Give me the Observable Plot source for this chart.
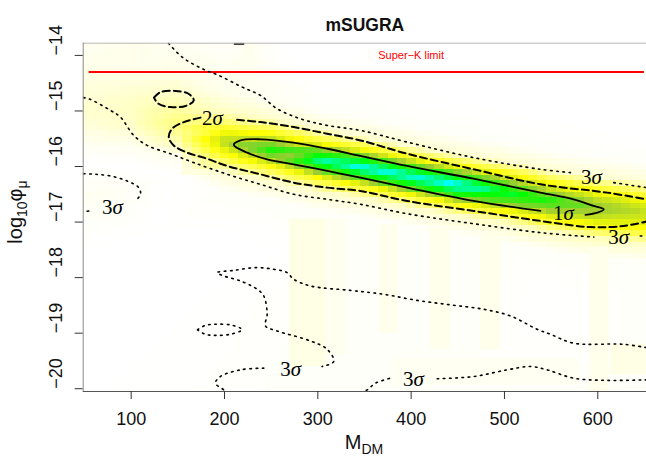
<!DOCTYPE html>
<html><head><meta charset="utf-8">
<script src="https://cdn.jsdelivr.net/npm/d3@7"></script>
<script src="https://cdn.jsdelivr.net/npm/@observablehq/plot@0.6"></script>
<style>html,body{margin:0;padding:0;background:#fff;} svg{display:block}</style>
</head><body><div id="chart"></div>
<script>
// ---------- data ----------
const chartTitle = "mSUGRA";
const xTicks = [100, 200, 300, 400, 500, 600];
const yTicks = [-14, -15, -16, -17, -18, -19, -20];
const xDomain = [48.6, 652.2];
const yDomain = [-20.05, -13.78];

// Super-K limit
const superKValue = -14.3;
const superKSpan = [55, 650];
const superKLabel = {x: 400, y: -14.0, text: "Super\u2212K limit"};

// heat map: ridge columns, centre of ridge, offsets from centre, values at those offsets
const heatColumnsX = [50, 100, 150, 200, 250, 300, 350, 400, 450, 500, 550, 600, 650];
const heatColumnsCenter = [-15.05, -15.1, -15.25, -15.55, -15.7, -15.88, -16.02, -16.18, -16.33, -16.46, -16.62, -16.74, -16.82];
const heatOffsets = [0.9, 0.55, 0.35, 0.18, 0, -0.18, -0.35, -0.55, -0.9];
const heatValues = [
  [0.03, 0.05, 0.06, 0.07, 0.07, 0.06, 0.04, 0.02, 0.0],
  [0.03, 0.06, 0.08, 0.09, 0.09, 0.08, 0.05, 0.02, 0.0],
  [0.04, 0.09, 0.13, 0.17, 0.2, 0.16, 0.10, 0.03, 0.0],
  [0.03, 0.09, 0.22, 0.40, 0.55, 0.42, 0.24, 0.07, 0.01],
  [0.02, 0.08, 0.30, 0.55, 0.76, 0.56, 0.30, 0.08, 0.01],
  [0.01, 0.07, 0.33, 0.66, 0.92, 0.68, 0.34, 0.08, 0.01],
  [0.01, 0.07, 0.36, 0.72, 1.00, 0.74, 0.36, 0.08, 0.01],
  [0.01, 0.07, 0.36, 0.72, 0.98, 0.74, 0.36, 0.08, 0.01],
  [0.01, 0.07, 0.38, 0.74, 1.00, 0.76, 0.38, 0.08, 0.01],
  [0.01, 0.07, 0.36, 0.64, 0.86, 0.66, 0.38, 0.09, 0.01],
  [0.01, 0.07, 0.34, 0.56, 0.76, 0.58, 0.38, 0.10, 0.01],
  [0.01, 0.07, 0.32, 0.50, 0.62, 0.52, 0.38, 0.10, 0.01],
  [0.01, 0.06, 0.28, 0.45, 0.52, 0.46, 0.34, 0.09, 0.01]
];
// faint background samples away from the ridge
const bgX = [45, 100, 150, 200, 230, 260, 350, 500, 655, 300, 450, 600, 655, 45, 70, 45, 120, 200, 250, 350, 450, 550, 655, 655, 450, 300, 200, 45, 150];
const bgY = [-13.78, -13.78, -13.78, -13.78, -13.78, -13.78, -13.78, -13.78, -13.78, -14.4, -14.8, -15.3, -15.5, -16.5, -16.5, -17.5, -17.2, -17.2, -17.5, -18.5, -18.6, -18.4, -18.3, -20.05, -20.05, -20.05, -20.05, -20.05, -18.5];
const bgV = [0.02, 0.03, 0.02, 0.01, 0.02, 0, 0, 0, 0, 0, 0, 0, 0, 0.02, 0.02, 0, 0, 0, 0, 0.01, 0.01, 0, 0.01, 0.01, 0.01, 0.01, 0.005, 0, 0];

// faint vertical stripes in the lower part of the map: x1, x2, y1, y2, value
const stripeX1 = [270, 312, 366, 421, 474, 592, 614, 380, 220];
const stripeX2 = [310, 330, 386, 442, 496, 612, 652, 580, 232];
const stripeY1 = [-19.6, -19.4, -19.0, -19.3, -19.3, -20.05, -19.75, -19.95, -14.6];
const stripeY2 = [-16.95, -16.95, -17.05, -17.1, -17.25, -17.45, -19.2, -19.45, -13.78];
const stripeV = [0.04, 0.025, 0.03, 0.03, 0.03, 0.03, 0.04, 0.02, 0.025];

// contours [M_DM, log10 phi]
const contour1Sigma = [[586.8,-16.87],[599.6,-16.83],[606.4,-16.77],[595.4,-16.71],[574.0,-16.59],[538.6,-16.47],[466.8,-16.22],[395.7,-15.99],[345.7,-15.81],[310.3,-15.68],[273.9,-15.57],[238.5,-15.51],[217.1,-15.53],[210.0,-15.61],[224.3,-15.75],[245.7,-15.87],[273.9,-15.96],[310.3,-16.08],[345.7,-16.20],[395.7,-16.38],[466.8,-16.62],[538.6,-16.80]];
const contourTopFragment = [[210.8,-13.79],[220.4,-13.79]];
const contour2SigmaUpper = [[213.6,-15.16],[238.5,-15.20],[274.2,-15.29],[310.0,-15.41],[345.7,-15.53],[395.7,-15.77],[467.1,-16.05],[538.6,-16.32],[610.0,-16.47],[652.1,-16.59]];
const contour2SigmaLower = [[174.3,-15.12],[156.4,-15.20],[143.9,-15.32],[140.3,-15.47],[145.6,-15.62],[160.0,-15.75],[181.4,-15.86],[202.9,-15.99],[238.5,-16.14],[274.2,-16.29],[310.0,-16.38],[345.7,-16.44],[395.7,-16.62],[467.1,-16.80],[538.6,-16.98],[592.2,-17.09],[627.8,-17.07],[652.1,-16.99]];
const contour2SigmaIsland = [[124.4,-14.76],[131.4,-14.66],[147.5,-14.64],[161.4,-14.69],[167.1,-14.81],[158.2,-14.91],[142.1,-14.93],[129.3,-14.87],[124.4,-14.76]];
const contour3SigmaUpper = [[140.0,-13.78],[154.6,-14.03],[176.1,-14.24],[193.9,-14.36],[218.9,-14.57],[238.5,-14.72],[256.4,-14.96],[281.4,-15.14],[310.0,-15.26],[345.7,-15.35],[395.7,-15.56],[467.1,-15.84],[538.6,-16.05],[570.7,-16.11]];
const contour3SigmaUpperEnd = [[617.1,-16.29],[652.1,-16.38]];
const contour3SigmaLower = [[48.9,-14.76],[54.6,-14.78],[77.8,-14.99],[88.5,-15.11],[102.8,-15.44],[117.1,-15.62],[142.1,-15.77],[167.1,-15.93],[202.9,-16.14],[238.5,-16.32],[274.2,-16.50],[310.0,-16.59],[345.7,-16.68],[395.7,-16.85],[467.1,-17.03],[538.6,-17.19],[595.7,-17.27]];
const contour3SigmaLowerEnd = [[645.5,-17.25],[652.1,-17.25]];
const contour3SigmaLeft = [[48.9,-16.13],[61.8,-16.14],[77.8,-16.17],[95.7,-16.26],[108.1,-16.38],[110.0,-16.50],[104.6,-16.62]];
const contour3SigmaLeftEnd = [[54.6,-16.80],[48.9,-16.82]];
const contour3SigmaBandA = [[652.1,-19.26],[627.5,-19.20],[574.0,-19.18],[549.3,-19.02],[535.0,-18.93],[506.4,-18.69],[477.8,-18.57],[442.1,-18.49],[406.4,-18.41],[370.7,-18.30],[335.0,-18.23],[292.1,-18.15],[274.2,-18.03],[267.1,-17.91],[252.8,-17.85],[233.2,-17.82],[209.9,-17.87],[192.1,-17.91],[199.2,-17.97],[217.1,-18.06],[235.0,-18.21],[242.1,-18.33],[245.7,-18.66],[243.9,-18.87],[256.4,-18.96],[292.1,-19.14],[310.0,-19.29],[317.1,-19.51],[304.6,-19.60]];
const contour3SigmaBandAEnd = [[242.1,-19.63],[217.1,-19.66],[195.7,-19.78],[190.3,-19.90],[199.2,-20.02],[202.0,-20.07]];
const contour3SigmaBottom = [[345.7,-20.07],[352.9,-20.02],[361.8,-19.90],[377.8,-19.81]];
const contour3SigmaBottomEnd = [[427.9,-19.82],[467.1,-19.78],[502.9,-19.66],[527.8,-19.60],[545.7,-19.66],[574.2,-19.81],[610.0,-19.85],[652.1,-19.84]];
const contour3SigmaIsland = [[171.0,-18.94],[179.6,-18.86],[190.3,-18.84],[206.4,-18.85],[217.1,-18.91],[218.9,-18.94],[206.4,-19.02],[190.3,-19.04],[179.6,-19.02],[171.0,-18.94]];

const sigmaLabels = [
  {x: 187.2, y: -15.14, text: "2σ"},
  {x: 593.3, y: -16.20, text: "3σ"},
  {x: 563.3, y: -16.85, text: "1σ"},
  {x: 622.3, y: -17.27, text: "3σ"},
  {x: 80.0, y: -16.73, text: "3σ"},
  {x: 270.8, y: -19.65, text: "3σ"},
  {x: 402.5, y: -19.83, text: "3σ"}
];

// ---------- tables built from the arrays ----------
const heatSamples = [];
heatColumnsX.forEach((x, i) => heatOffsets.forEach((o, j) =>
  heatSamples.push({x, y: heatColumnsCenter[i] + o, v: heatValues[i][j]})));
bgX.forEach((x, i) => heatSamples.push({x, y: bgY[i], v: bgV[i]}));
const stripes = stripeX1.map((x1, i) => ({x1, x2: stripeX2[i], y1: stripeY1[i], y2: stripeY2[i], v: stripeV[i]}));

function toRows(groups) {
  const rows = [];
  groups.forEach((pts, id) => pts.forEach(([x, y]) => rows.push({x, y, id})));
  return rows;
}
const solidRows = toRows([contour1Sigma, contourTopFragment]);
const dashedRows = toRows([contour2SigmaUpper, contour2SigmaLower, contour2SigmaIsland]);
const dottedRows = toRows([contour3SigmaUpper, contour3SigmaUpperEnd, contour3SigmaLower, contour3SigmaLowerEnd,
  contour3SigmaLeft, contour3SigmaLeftEnd, contour3SigmaBandA, contour3SigmaBandAEnd,
  contour3SigmaBottom, contour3SigmaBottomEnd, contour3SigmaIsland]);

const plot = Plot.plot({
  width: 646,
  height: 459,
  marginTop: 42.7,
  marginBottom: 68,
  marginLeft: 82.7,
  marginRight: 0,
  style: {fontFamily: "'Liberation Sans', Arial, sans-serif", background: "#fff", overflow: "visible"},
  x: {domain: xDomain},
  y: {domain: yDomain},
  color: {type: "linear", domain: [0, 0.4, 0.6, 0.8, 1], range: ["#ffffff", "#ffff00", "#9acd32", "#00ff00", "#00ffff"], interpolate: "rgb", clamp: true},
  marks: [
    Plot.raster(heatSamples, {x: "x", y: "y", fill: "v", interpolate: "barycentric",
      x1: 45, x2: 655, y1: -20.05, y2: -13.75, width: 61, height: 63, imageRendering: "pixelated", clip: true}),
    Plot.rect(stripes, {x1: "x1", x2: "x2", y1: "y1", y2: "y2", fill: "v", clip: true}),
    Plot.ruleY([superKValue], {x1: superKSpan[0], x2: superKSpan[1], stroke: "#ff0000", strokeWidth: 2}),
    Plot.text([superKLabel], {x: "x", y: "y", text: "text", fill: "#ff0000", fontSize: 11}),
    Plot.line(dottedRows, {x: "x", y: "y", z: "id", stroke: "#000", strokeWidth: 1.6, strokeDasharray: "1.6,4.6", curve: "catmull-rom", clip: true}),
    Plot.line(dashedRows, {x: "x", y: "y", z: "id", stroke: "#000", strokeWidth: 2, strokeDasharray: "7,4", curve: "catmull-rom", clip: true}),
    Plot.line(solidRows, {x: "x", y: "y", z: "id", stroke: "#000", strokeWidth: 1.8, curve: "catmull-rom", clip: true}),
    Plot.text(sigmaLabels, {x: "x", y: "y", text: "text", fontFamily: "'Liberation Serif', 'DejaVu Serif', serif", fontSize: 21, fill: "#000"}),
    // frame
    Plot.ruleY([yDomain[1]], {stroke: "#b5b5b5", strokeWidth: 1}),
    Plot.ruleX([xDomain[0]], {stroke: "#8a8a8a", strokeWidth: 1}),
    Plot.ruleY([yDomain[0]], {stroke: "#555", strokeWidth: 1.2}),
    // axes
    Plot.axisX(xTicks, {tickSize: 8, tickPadding: 13, fontSize: 18, label: null, tickFormat: d => String(d), stroke: "#333", fill: "#111"}),
    Plot.axisY(yTicks, {tickSize: 8, tickFormat: () => "", label: null, stroke: "#333"}),
    Plot.text(yTicks, {y: d => d, text: d => (d < 0 ? "\u2212" : "") + Math.abs(d), frameAnchor: "left", dx: -27, rotate: -90, fontSize: 18, fill: "#111"}),
    Plot.text([chartTitle], {frameAnchor: "top", dy: -25, fontWeight: "bold", fontSize: 17.5, fill: "#111"})
  ]
});

// italic sigma in contour labels
d3.select(plot).selectAll("text").each(function() {
  const t = this.textContent;
  if (/^[123]σ$/.test(t)) {
    const sel = d3.select(this);
    sel.text(null);
    sel.append("tspan").text(t[0]);
    sel.append("tspan").attr("font-style", "italic").text("σ");
  }
});

// axis titles with subscripts
const svg = d3.select(plot);
const xt = svg.append("text").attr("x", 364).attr("y", 449).attr("text-anchor", "middle")
  .attr("font-size", 20).attr("fill", "#111");
xt.append("tspan").text("M");
xt.append("tspan").attr("dy", 5).attr("font-size", 14).text("DM");

const yt = svg.append("text").attr("transform", "translate(22,212) rotate(-90)").attr("text-anchor", "middle")
  .attr("font-size", 20).attr("fill", "#111");
yt.append("tspan").text("log");
yt.append("tspan").attr("dy", 5).attr("font-size", 14).text("10");
yt.append("tspan").attr("dy", -5).text("φ");
yt.append("tspan").attr("dy", 5).attr("font-size", 14).text("μ");

document.getElementById("chart").appendChild(plot);
</script></body></html>
